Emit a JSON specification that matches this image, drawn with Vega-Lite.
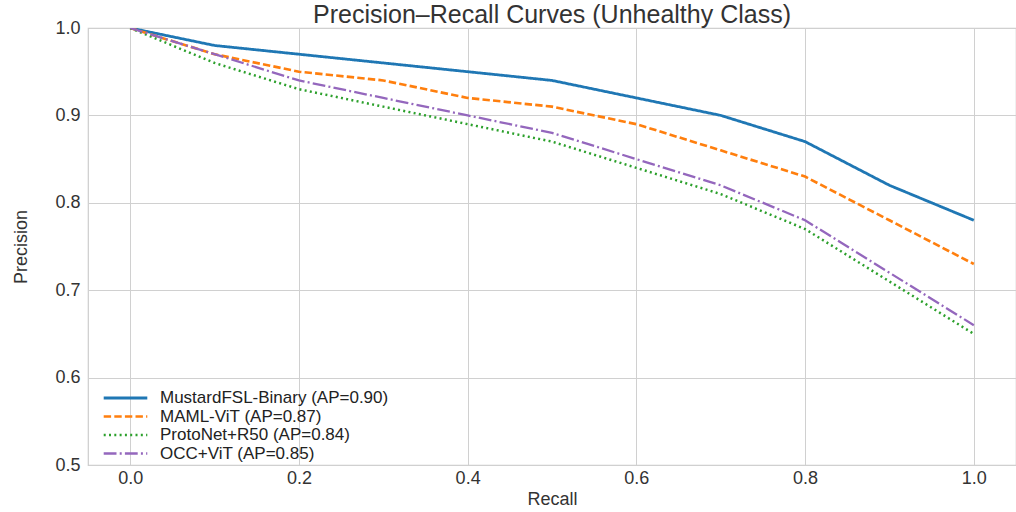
{
  "$schema": "https://vega.github.io/schema/vega-lite/v6.json",
  "width": 928,
  "height": 437,
  "autosize": {"type": "none"},
  "padding": {"left": 88, "top": 28, "right": 0, "bottom": 47},
  "background": "white",
  "config": {
    "font": "Liberation Sans",
    "view": {"stroke": "#cccccc", "strokeWidth": 1.2},
    "axis": {"gridColor": "#d0d0d0", "gridWidth": 1, "domain": false, "ticks": false, "labelColor": "#333333", "titleColor": "#333333", "labelFont": "Liberation Sans", "titleFont": "Liberation Sans", "titleFontWeight": "normal"}
  },
  "title": {"text": "Precision–Recall Curves (Unhealthy Class)", "fontSize": 25, "fontWeight": "normal", "color": "#333333", "font": "Liberation Sans", "anchor": "middle", "frame": "group", "offset": -9},
  "data": {
    "values": [
      {"model": "MustardFSL-Binary (AP=0.90)", "recall": 0.0, "precision": 1.0},
      {"model": "MustardFSL-Binary (AP=0.90)", "recall": 0.1, "precision": 0.98},
      {"model": "MustardFSL-Binary (AP=0.90)", "recall": 0.2, "precision": 0.97},
      {"model": "MustardFSL-Binary (AP=0.90)", "recall": 0.3, "precision": 0.96},
      {"model": "MustardFSL-Binary (AP=0.90)", "recall": 0.4, "precision": 0.95},
      {"model": "MustardFSL-Binary (AP=0.90)", "recall": 0.5, "precision": 0.94},
      {"model": "MustardFSL-Binary (AP=0.90)", "recall": 0.6, "precision": 0.92},
      {"model": "MustardFSL-Binary (AP=0.90)", "recall": 0.7, "precision": 0.90},
      {"model": "MustardFSL-Binary (AP=0.90)", "recall": 0.8, "precision": 0.87},
      {"model": "MustardFSL-Binary (AP=0.90)", "recall": 0.9, "precision": 0.82},
      {"model": "MustardFSL-Binary (AP=0.90)", "recall": 1.0, "precision": 0.78},
      {"model": "MAML-ViT (AP=0.87)", "recall": 0.0, "precision": 1.0},
      {"model": "MAML-ViT (AP=0.87)", "recall": 0.1, "precision": 0.97},
      {"model": "MAML-ViT (AP=0.87)", "recall": 0.2, "precision": 0.95},
      {"model": "MAML-ViT (AP=0.87)", "recall": 0.3, "precision": 0.94},
      {"model": "MAML-ViT (AP=0.87)", "recall": 0.4, "precision": 0.92},
      {"model": "MAML-ViT (AP=0.87)", "recall": 0.5, "precision": 0.91},
      {"model": "MAML-ViT (AP=0.87)", "recall": 0.6, "precision": 0.89},
      {"model": "MAML-ViT (AP=0.87)", "recall": 0.7, "precision": 0.86},
      {"model": "MAML-ViT (AP=0.87)", "recall": 0.8, "precision": 0.83},
      {"model": "MAML-ViT (AP=0.87)", "recall": 0.9, "precision": 0.78},
      {"model": "MAML-ViT (AP=0.87)", "recall": 1.0, "precision": 0.73},
      {"model": "ProtoNet+R50 (AP=0.84)", "recall": 0.0, "precision": 1.0},
      {"model": "ProtoNet+R50 (AP=0.84)", "recall": 0.1, "precision": 0.96},
      {"model": "ProtoNet+R50 (AP=0.84)", "recall": 0.2, "precision": 0.93},
      {"model": "ProtoNet+R50 (AP=0.84)", "recall": 0.3, "precision": 0.91},
      {"model": "ProtoNet+R50 (AP=0.84)", "recall": 0.4, "precision": 0.89},
      {"model": "ProtoNet+R50 (AP=0.84)", "recall": 0.5, "precision": 0.87},
      {"model": "ProtoNet+R50 (AP=0.84)", "recall": 0.6, "precision": 0.84},
      {"model": "ProtoNet+R50 (AP=0.84)", "recall": 0.7, "precision": 0.81},
      {"model": "ProtoNet+R50 (AP=0.84)", "recall": 0.8, "precision": 0.77},
      {"model": "ProtoNet+R50 (AP=0.84)", "recall": 0.9, "precision": 0.71},
      {"model": "ProtoNet+R50 (AP=0.84)", "recall": 1.0, "precision": 0.65},
      {"model": "OCC+ViT (AP=0.85)", "recall": 0.0, "precision": 1.0},
      {"model": "OCC+ViT (AP=0.85)", "recall": 0.1, "precision": 0.97},
      {"model": "OCC+ViT (AP=0.85)", "recall": 0.2, "precision": 0.94},
      {"model": "OCC+ViT (AP=0.85)", "recall": 0.3, "precision": 0.92},
      {"model": "OCC+ViT (AP=0.85)", "recall": 0.4, "precision": 0.90},
      {"model": "OCC+ViT (AP=0.85)", "recall": 0.5, "precision": 0.88},
      {"model": "OCC+ViT (AP=0.85)", "recall": 0.6, "precision": 0.85},
      {"model": "OCC+ViT (AP=0.85)", "recall": 0.7, "precision": 0.82},
      {"model": "OCC+ViT (AP=0.85)", "recall": 0.8, "precision": 0.78},
      {"model": "OCC+ViT (AP=0.85)", "recall": 0.9, "precision": 0.72},
      {"model": "OCC+ViT (AP=0.85)", "recall": 1.0, "precision": 0.66}
    ]
  },
  "mark": {"type": "line", "clip": true},
  "encoding": {
    "x": {
      "field": "recall", "type": "quantitative",
      "scale": {"domain": [-0.05, 1.05], "nice": false, "zero": false},
      "axis": {"title": "Recall", "values": [0, 0.2, 0.4, 0.6, 0.8, 1.0], "format": ".1f", "labelFontSize": 18, "titleFontSize": 18, "labelPadding": 4, "titlePadding": 3}
    },
    "y": {
      "field": "precision", "type": "quantitative",
      "scale": {"domain": [0.5, 1.0], "nice": false, "zero": false},
      "axis": {"title": "Precision", "values": [0.5, 0.6, 0.7, 0.8, 0.9, 1.0], "format": ".1f", "labelFontSize": 18, "titleFontSize": 18, "labelPadding": 8, "titlePadding": 24}
    },
    "color": {
      "field": "model", "type": "nominal",
      "scale": {"domain": ["MustardFSL-Binary (AP=0.90)", "MAML-ViT (AP=0.87)", "ProtoNet+R50 (AP=0.84)", "OCC+ViT (AP=0.85)"], "range": ["#1f77b4", "#ff7f0e", "#2ca02c", "#9467bd"]},
      "legend": {"title": null, "orient": "none", "legendX": 14, "legendY": 362, "symbolType": "M-1,0H1", "symbolSize": 1900, "symbolStrokeWidth": 2.5, "labelFontSize": 17, "labelColor": "#222222", "labelOffset": 11, "labelLimit": 0, "clipHeight": 16, "rowPadding": 1.5, "padding": 0}
    },
    "strokeDash": {
      "field": "model", "type": "nominal",
      "scale": {"domain": ["MustardFSL-Binary (AP=0.90)", "MAML-ViT (AP=0.87)", "ProtoNet+R50 (AP=0.84)", "OCC+ViT (AP=0.85)"], "range": [[1, 0], [7.4, 3.2], [2, 3.3], [12.8, 3.2, 2, 3.2]]}
    },
    "strokeWidth": {
      "field": "model", "type": "nominal",
      "scale": {"domain": ["MustardFSL-Binary (AP=0.90)", "MAML-ViT (AP=0.87)", "ProtoNet+R50 (AP=0.84)", "OCC+ViT (AP=0.85)"], "range": [2.8, 2.3, 2.3, 2.3]},
      "legend": null
    }
  }
}
